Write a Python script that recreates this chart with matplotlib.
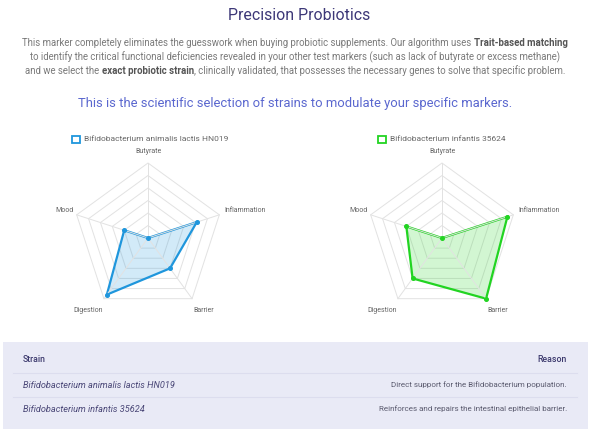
import numpy as np
import matplotlib
matplotlib.use('Agg')
import matplotlib.pyplot as plt
from matplotlib.patches import Rectangle, Polygon

plt.rcParams['font.family'] = ['Roboto', 'DejaVu Sans']

W, H = 600, 432

axis_labels = ['Butyrate', 'Inflammation', 'Barrier', 'Digestion', 'Mood']
strains = ['Bifidobacterium animalis lactis HN019', 'Bifidobacterium infantis 35624']
reasons = ['Direct support for the Bifidobacterium population.',
           'Reinforces and repairs the intestinal epithelial barrier.']
hn019_values = [0.0, 4.1, 3.0, 5.6, 2.0]
infantis_values = [0.0, 5.5, 6.0, 4.0, 3.0]
scale_max = 6
n_rings = 6

line_colors = ['#1f96dc', '#22d422']
fill_colors = ['#1f96dc', '#22d422']

fig = plt.figure(figsize=(W / 100, H / 100), dpi=100)
fig.patch.set_facecolor('white')


def fx(x):
    return x / W


def fy(y):
    return 1 - y / H


# header texts
fig.text(fx(299), fy(16), 'Precision Probiotics', ha='center', va='center',
         fontsize=11.4, color='#3d3878')

para = [
    [('This marker completely eliminates the guesswork when buying probiotic supplements. Our algorithm uses ', 'normal'),
     ('Trait-based matching', 'bold')],
    [('to identify the critical functional deficiencies revealed in your other test markers (such as lack of butyrate or excess methane)', 'normal')],
    [('and we select the ', 'normal'), ('exact probiotic strain', 'bold'),
     (', clinically validated, that possesses the necessary genes to solve that specific problem.', 'normal')],
]
para_y = [43.5, 57, 70.5]

renderer = fig.canvas.get_renderer()
for segs, y in zip(para, para_y):
    texts = []
    for s, w in segs:
        t = fig.text(0, fy(y), s, ha='left', va='center', fontsize=6.95,
                     fontweight=w, color='#555555' if w == 'bold' else '#7a7a7a')
        texts.append(t)
    widths = [t.get_window_extent(renderer).width for t in texts]
    x0 = 295 - sum(widths) / 2
    for t, wd in zip(texts, widths):
        t.set_x(fx(x0))
        x0 += wd

fig.text(fx(295), fy(103), 'This is the scientific selection of strains to modulate your specific markers.',
         ha='center', va='center', fontsize=9.4, color='#5a67cf')

# radar charts
angles = np.deg2rad(np.arange(5) * 72)
centers = [(148, 238), (442, 238)]
radius = 75
series = [hn019_values, infantis_values]
legend_x = [72, 378]

for i, (cx, cy) in enumerate(centers):
    half = 110
    ax = fig.add_axes([fx(cx - half), fy(cy + half), 2 * half / W, 2 * half / H])
    lim = half / radius
    ax.set_xlim(-lim, lim)
    ax.set_ylim(-lim, lim)
    ax.axis('off')

    sx, sy = np.sin(angles), np.cos(angles)
    for k in range(1, n_rings + 1):
        r = k / n_rings
        ax.add_patch(Polygon(np.column_stack([sx * r, sy * r]), closed=True, fill=False,
                             edgecolor='#e2e2e2', lw=0.7))
    for a in range(5):
        ax.plot([0, sx[a]], [0, sy[a]], color='#e2e2e2', lw=0.7)

    vals = np.array(series[i]) / scale_max
    px, py = sx * vals, sy * vals
    ax.add_patch(Polygon(np.column_stack([px, py]), closed=True, facecolor=fill_colors[i],
                         alpha=0.2, edgecolor='none'))
    ax.add_patch(Polygon(np.column_stack([px, py]), closed=True, fill=False,
                         edgecolor=line_colors[i], lw=1.6, joinstyle='miter'))
    ax.plot(px, py, 'o', color=line_colors[i], ms=2.6)

    # axis labels
    lab_r = 1.12
    has = ['center', 'left', 'left', 'right', 'right']
    offs = [(0, 0.03), (-0.05, 0.02), (-0.05, -0.06), (0.05, -0.06), (0.07, 0.02)]
    for a, lab in enumerate(axis_labels):
        ax.text(sx[a] * lab_r + offs[a][0], sy[a] * lab_r + offs[a][1], lab,
                ha=has[a], va='center', fontsize=5, color='#666666')

    # legend
    lx = legend_x[i]
    fig.patches.append(Rectangle((fx(lx), fy(143)), 7.5 / W, 7.5 / H, transform=fig.transFigure,
                                 facecolor='#ffffff', edgecolor=line_colors[i], lw=1.3))
    fig.text(fx(lx + 12), fy(139), strains[i], ha='left', va='center',
             fontsize=6, color='#666666')

# table panel
fig.patches.append(Rectangle((fx(3), fy(429)), 585 / W, 87 / H, transform=fig.transFigure,
                             facecolor='#e9eaf6', edgecolor='none'))
fig.text(fx(23), fy(360), 'Strain', ha='left', va='center', fontsize=6.3,
         fontweight='medium', color='#3d3a6e')
fig.text(fx(567), fy(360), 'Reason', ha='right', va='center', fontsize=6.3,
         fontweight='medium', color='#3d3a6e')
for yl in [373, 397]:
    fig.lines.append(plt.Line2D([fx(13), fx(577)], [fy(yl), fy(yl)], transform=fig.transFigure,
                                color='#dcddee', lw=0.8))
row_y = [385, 409]
for s, r, y in zip(strains, reasons, row_y):
    fig.text(fx(23), fy(y), s, ha='left', va='center', fontsize=6.6, style='italic',
             color='#4b4878')
    fig.text(fx(567), fy(y), r, ha='right', va='center', fontsize=5.75, color='#5a5a6e')

fig.savefig('out.png', dpi=100, facecolor='white')
